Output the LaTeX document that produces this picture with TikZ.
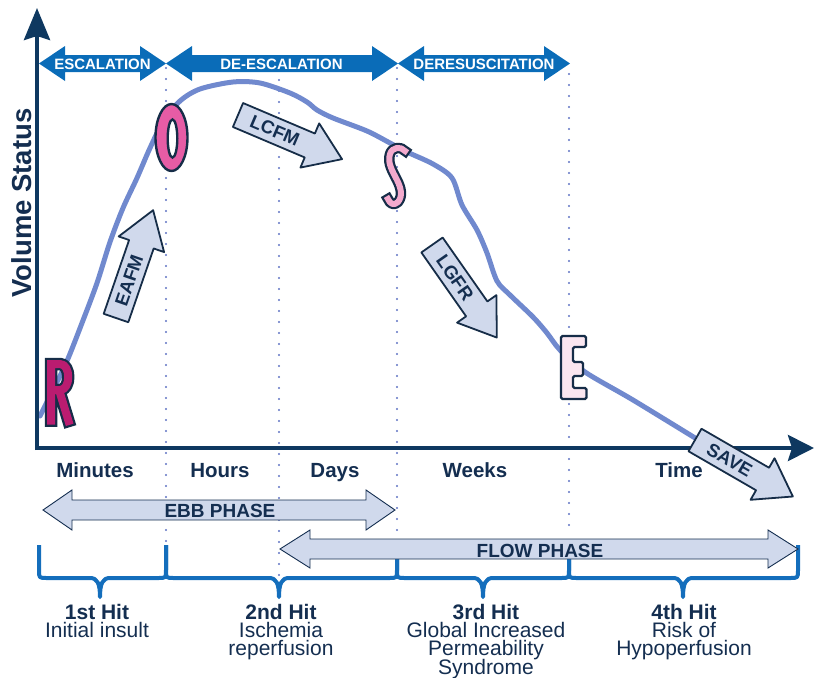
\documentclass[tikz,border=0pt]{standalone}
\usepackage{fontspec}
\setmainfont{Liberation Sans}
\usetikzlibrary{arrows.meta}
\definecolor{navy}{RGB}{20,46,80}
\definecolor{axisc}{RGB}{14,56,96}
\definecolor{topblue}{RGB}{10,108,184}
\definecolor{brblue}{RGB}{20,110,188}
\definecolor{curvec}{RGB}{112,137,206}
\definecolor{dotc}{RGB}{95,115,195}
\definecolor{afill}{RGB}{208,217,236}
\definecolor{outl}{RGB}{22,45,72}
\definecolor{rcol}{RGB}{186,28,112}
\definecolor{ocol}{RGB}{230,92,165}
\definecolor{scol}{RGB}{243,170,205}
\definecolor{ecol}{RGB}{250,230,240}
% x1, x2, yc, shaft half, head half, head length
\newcommand\dblarrowpath[6]{(#1,#3) -- (#1+#6,#3-#5) -- (#1+#6,#3-#4) -- (#2-#6,#3-#4) -- (#2-#6,#3-#5) -- (#2,#3) -- (#2-#6,#3+#5) -- (#2-#6,#3+#4) -- (#1+#6,#3+#4) -- (#1+#6,#3+#5) -- cycle}
% left, right, middle
\newcommand\bracepath[3]{(#1,545) -- (#1,570) .. controls (#1,578) .. (#1+8,578) -- (#3-10,578) .. controls (#3-3,578) and (#3,583) .. (#3,597) .. controls (#3,583) and (#3+3,578) .. (#3+10,578) -- (#2-8,578) .. controls (#2,578) .. (#2,570) -- (#2,545)}
\begin{document}
\begin{tikzpicture}[x=1pt,y=-1pt,
  dots/.style={draw=dotc, line width=2.2pt, line cap=round, dash pattern=on 0pt off 11pt},
  curveline/.style={draw=curvec, line width=5pt, line cap=round, line join=round},
  toplab/.style={text=white, font=\fontsize{15}{16}\selectfont\bfseries, inner sep=0, anchor=base},
  phasearr/.style={fill=afill, draw=navy, line width=0.9pt},
  phaselab/.style={text=navy, font=\fontsize{19}{22}\selectfont\bfseries, inner sep=0, anchor=base},
  blk/.style={fill=afill, draw=outl, line width=1.8pt, line join=round},
  blklab/.style={text=navy, font=\fontsize{18.5}{20}\selectfont\bfseries, inner sep=0},
  axislab/.style={text=navy, font=\fontsize{20.5}{24}\selectfont\bfseries, inner sep=0, anchor=base},
  hitlab/.style={text=navy, align=center, font={\fontsize{21}{18.2}\selectfont\lineskiplimit=-20pt}, inner sep=0, anchor=north},
  axisline/.style={draw=axisc, line width=4pt},
  bracel/.style={draw=brblue, line width=4pt, line join=round},
  dark/.style={draw=outl, line cap=rect, line join=round}
]
\useasboundingbox (0,0) rectangle (815,678);

% dotted guides
\draw[dots] (166,68) -- (166,545);
\draw[dots] (279,80) -- (279,578);
\draw[dots] (397,68) -- (397,540);
\draw[dots] (569,74) -- (569,536);

% top phase arrows
\fill[topblue] \dblarrowpath{39}{166}{63.5}{8.5}{17.5}{26};
\fill[topblue] \dblarrowpath{166}{398}{63.5}{8.5}{17.5}{26};
\fill[topblue] \dblarrowpath{398}{570}{63.5}{8.5}{17.5}{26};
\node[toplab] (esc) at (102.5,69) {ESCALATION};
\node[toplab] (desc) at (281.5,69) {DE-ESCALATION};
\node[toplab] (dres) at (484,69) {DERESUSCITATION};

% curve
\draw[curveline] plot[smooth, tension=0.5] coordinates {
 (40,416) (53,390) (67,361) (82,323) (97,283) (110,242) (123,208) (137,178) (150,148)
 (163,122) (180,101) (200,89) (233,82) (260,83) (290,93) (307,102) (317,110) (333,118)
 (367,131) (390,143) (407,152) (433,164) (452,178) (462,205) (477,230) (487,253) (497,281)
 (510,295) (533,317) (547,333) (560,350) (585,372) (633,400) (700,441)};

% axes
\draw[axisline, -{Stealth[length=32pt,width=26pt,inset=4pt]}] (37,450) -- (37,8);
\draw[axisline, -{Stealth[length=26pt,width=26pt,inset=4pt]}] (35,448) -- (814,448);
\node[text=navy, font=\fontsize{27.5}{30}\selectfont\bfseries, rotate=90, inner sep=0] (ylab) at (22,203) {Volume Status};

% letter R
\draw[dark, line width=12.5pt] (51,364.5) -- (51,420.5) (51,364) -- (60,364) .. controls (71,364) and (71,390) .. (60,390) -- (51,390) (60,393) -- (68.5,421);
\draw[draw=rcol, line cap=rect, line join=round, line width=8pt] (51,364.5) -- (51,420.5) (51,364) -- (60,364) .. controls (71,364) and (71,390) .. (60,390) -- (51,390) (60,393) -- (68.5,421);
% letter O
\draw[fill=ocol, draw=outl, line width=2.4pt, even odd rule] (171.5,137.5) ellipse (16 and 33.5) (172.5,138.5) ellipse (4.8 and 19);
% letter S
\draw[dark, line width=10.5pt] (405,151) .. controls (401,146) and (392,147) .. (390,154) .. controls (387,163) and (393,172) .. (397,180) .. controls (401,188) and (403,196) .. (398,202) .. controls (394,206) and (390,204) .. (388,199);
\draw[draw=scol, line cap=rect, line join=round, line width=6pt] (405,151) .. controls (401,146) and (392,147) .. (390,154) .. controls (387,163) and (393,172) .. (397,180) .. controls (401,188) and (403,196) .. (398,202) .. controls (394,206) and (390,204) .. (388,199);
% letter E
\draw[fill=ecol, draw=outl, line width=2.4pt, rounded corners=1.5pt] (561,336) -- (586,336) -- (586,347) -- (573,347) -- (573,362) -- (583,362) -- (583,376) -- (573,376) -- (573,388) -- (586.5,388) -- (586.5,399) -- (561,399) -- cycle;

% block arrows
\begin{scope}[shift={(116,318)}, rotate=71]
 \draw[blk] (0,13) -- (78,13) -- (78,24) -- (114,0) -- (78,-24) -- (78,-13) -- (0,-13) -- cycle;
 \node[blklab, rotate=71] (eafm) at (40,0) {EAFM};
\end{scope}
\begin{scope}[shift={(238,115)}, rotate=-23]
 \draw[blk] (0,13) -- (78,13) -- (78,24) -- (113,0) -- (78,-24) -- (78,-13) -- (0,-13) -- cycle;
 \node[blklab, rotate=-23] (lcfm) at (40,0) {LCFM};
\end{scope}
\begin{scope}[shift={(432,245)}, rotate=-55]
 \draw[blk] (0,13) -- (78,13) -- (78,24) -- (113,0) -- (78,-24) -- (78,-13) -- (0,-13) -- cycle;
 \node[blklab, rotate=-55] (lgfr) at (40,0) {LGFR};
\end{scope}
\begin{scope}[shift={(695,440)}, rotate=-30]
 \draw[blk] (0,13) -- (78,13) -- (78,24) -- (113,0) -- (78,-24) -- (78,-13) -- (0,-13) -- cycle;
 \node[blklab, rotate=-30] (save) at (40,0) {SAVE};
\end{scope}

% axis labels
\node[axislab] (minutes) at (95,477) {Minutes};
\node[axislab] (hours) at (220,477) {Hours};
\node[axislab] (days) at (335,477) {Days};
\node[axislab] (weeks) at (475,477) {Weeks};
\node[axislab] (time) at (679,477) {Time};

% brackets
\draw[bracel] \bracepath{39}{166}{100};
\draw[bracel] \bracepath{166}{397}{279};
\draw[bracel] \bracepath{397}{569}{483};
\draw[bracel] \bracepath{569}{798}{683};

% ebb and flow arrows
\draw[phasearr] \dblarrowpath{43}{395}{510}{10}{20}{29};
\node[phaselab] (ebb) at (220,517) {EBB PHASE};
\draw[phasearr] \dblarrowpath{280}{798}{549}{10}{19}{30};
\node[phaselab] (flow) at (540,557) {FLOW PHASE};

% hit labels
\node[hitlab] (hit1) at (97,604) {\textbf{1st Hit}\\Initial insult};
\node[hitlab] (hit2) at (281,604) {\textbf{2nd Hit}\\Ischemia\\reperfusion};
\node[hitlab] (hit3) at (486,604) {\textbf{3rd Hit}\\Global Increased\\Permeability\\Syndrome};
\node[hitlab] (hit4) at (684,604) {\textbf{4th Hit}\\Risk of\\Hypoperfusion};
\end{tikzpicture}
\end{document}
